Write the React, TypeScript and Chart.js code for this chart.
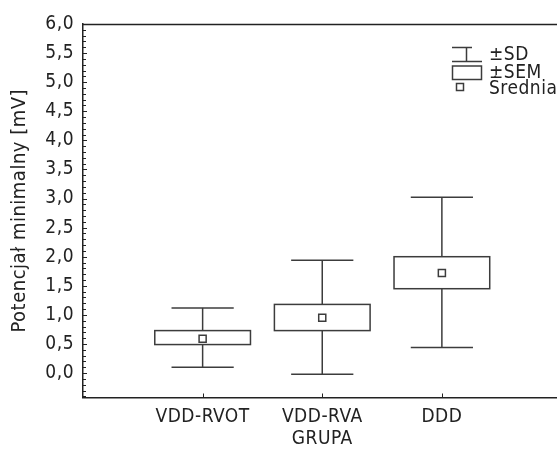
import React, { useEffect, useRef } from 'react';
import { Chart, registerables } from 'chart.js';

Chart.register(...registerables);

// ---- data ----
const categories = ['VDD-RVOT', 'VDD-RVA', 'DDD'];
const means = [0.59, 0.95, 1.72];
const semLow = [0.49, 0.73, 1.45];
const semHigh = [0.73, 1.18, 2.0];
const sdLow = [0.1, -0.02, 0.44];
const sdHigh = [1.12, 1.94, 3.02];
const yTickValues = [0, 0.5, 1, 1.5, 2, 2.5, 3, 3.5, 4, 4.5, 5, 5.5, 6];
const legendLabels = ['±SD', '±SEM', 'Średnia'];
const yTitle = 'Potencjał minimalny [mV]';
const xTitle = 'GRUPA';

const FONT = "'Liberation Sans Narrow', 'DejaVu Sans Condensed', sans-serif";
const INK = '#222';
const LINE = '#3c3c3c';
const BOX_HALF = 0.4;
const CAP_HALF = 0.26;
const SPACING = '0.5px';

const stylePlugin = {
  id: 'textStyle',
  beforeDraw(chart: any) {
    (chart.ctx as any).letterSpacing = SPACING;
  },
};

const boxPlugin = {
  id: 'boxes',
  beforeDatasetsDraw(chart: any) {
    const { ctx, scales } = chart;
    const x = scales.x;
    const y = scales.y;
    ctx.save();
    ctx.strokeStyle = LINE;
    ctx.lineWidth = 1.5;
    const line = (x1: number, y1: number, x2: number, y2: number) => {
      ctx.beginPath();
      ctx.moveTo(x1, y1);
      ctx.lineTo(x2, y2);
      ctx.stroke();
    };
    categories.forEach((_, i) => {
      const c = i + 1;
      const xc = x.getPixelForValue(c);
      const capL = x.getPixelForValue(c - CAP_HALF);
      const capR = x.getPixelForValue(c + CAP_HALF);
      const bL = x.getPixelForValue(c - BOX_HALF);
      const bR = x.getPixelForValue(c + BOX_HALF);
      const yH = y.getPixelForValue(sdHigh[i]);
      const yL = y.getPixelForValue(sdLow[i]);
      const sH = y.getPixelForValue(semHigh[i]);
      const sL = y.getPixelForValue(semLow[i]);
      line(xc, yH, xc, sH);
      line(xc, sL, xc, yL);
      line(capL, yH, capR, yH);
      line(capL, yL, capR, yL);
      ctx.fillStyle = '#fff';
      ctx.fillRect(bL, sH, bR - bL, sL - sH);
      ctx.strokeRect(bL, sH, bR - bL, sL - sH);
    });
    ctx.restore();
  },
  afterDraw(chart: any) {
    const { ctx, chartArea, scales } = chart;
    const x = scales.x;
    const y = scales.y;
    ctx.save();
    ctx.strokeStyle = INK;
    ctx.lineWidth = 1.5;
    // top frame line
    ctx.beginPath();
    ctx.moveTo(chartArea.left, chartArea.top + 0.5);
    ctx.lineTo(chartArea.right, chartArea.top + 0.5);
    ctx.stroke();
    // minor ticks on y axis (inside)
    ctx.lineWidth = 1;
    for (let k = -4; k <= 60; k++) {
      const v = k / 10;
      const py = Math.round(y.getPixelForValue(v)) + 0.5;
      const len = k % 5 === 0 ? 4 : 3;
      ctx.beginPath();
      ctx.moveTo(chartArea.left, py);
      ctx.lineTo(chartArea.left + len, py);
      ctx.stroke();
    }
    // x ticks (inside)
    categories.forEach((_, i) => {
      const px = Math.round(x.getPixelForValue(i + 1)) + 0.5;
      ctx.beginPath();
      ctx.moveTo(px, chartArea.bottom);
      ctx.lineTo(px, chartArea.bottom - 4);
      ctx.stroke();
    });

    // legend
    ctx.strokeStyle = LINE;
    ctx.lineWidth = 1.5;
    ctx.beginPath();
    ctx.moveTo(452, 47.5); ctx.lineTo(472, 47.5);
    ctx.moveTo(466.5, 47.5); ctx.lineTo(466.5, 61.5);
    ctx.moveTo(452, 61.5); ctx.lineTo(482, 61.5);
    ctx.stroke();
    ctx.strokeRect(452.5, 66, 29, 13.5);
    ctx.strokeRect(456.5, 83.5, 7, 7);
    ctx.fillStyle = INK;
    ctx.font = `19px ${FONT}`;
    (ctx as any).letterSpacing = SPACING;
    ctx.textAlign = 'left';
    ctx.textBaseline = 'middle';
    ctx.fillText(legendLabels[0], 489, 55);
    ctx.fillText(legendLabels[1], 489, 73);
    ctx.fillText(legendLabels[2], 489, 89);
    ctx.restore();
  },
};

export default function App() {
  const ref = useRef<HTMLCanvasElement | null>(null);
  useEffect(() => {
    if (!ref.current) return;
    const chart = new Chart(ref.current, {
      type: 'scatter',
      data: {
        datasets: [
          {
            data: means.map((m, i) => ({ x: i + 1, y: m })),
            pointStyle: 'rect',
            pointRadius: 5,
            backgroundColor: '#fff',
            borderColor: LINE,
            borderWidth: 1.5,
          },
        ],
      },
      options: {
        responsive: false,
        animation: false,
        devicePixelRatio: 1,
        events: [],
        layout: { padding: { top: 24, left: 0, right: 0, bottom: 0 } },
        plugins: {
          legend: { display: false },
          tooltip: { enabled: false },
        },
        scales: {
          x: {
            type: 'linear',
            min: 0,
            max: 4,
            grid: { display: false, drawTicks: false },
            border: { display: true, color: INK, width: 1.5 },
            afterBuildTicks: (scale: any) => {
              scale.ticks = categories.map((_, i) => ({ value: i + 1 }));
            },
            afterFit: (scale: any) => {
              scale.height = 57.5;
            },
            ticks: {
              autoSkip: false,
              maxRotation: 0,
              padding: 8,
              color: INK,
              font: { family: FONT, size: 19 },
              callback: (v: any) => categories[Number(v) - 1] ?? '',
            },
            title: {
              display: true,
              text: xTitle,
              color: INK,
              font: { family: FONT, size: 19 },
              padding: { top: 0, bottom: 5 },
            },
          },
          y: {
            type: 'linear',
            min: -0.42,
            max: 6,
            grid: { display: false, drawTicks: false },
            border: { display: true, color: INK, width: 1.5 },
            afterBuildTicks: (scale: any) => {
              scale.ticks = yTickValues.map((v) => ({ value: v }));
            },
            afterFit: (scale: any) => {
              scale.width = 83;
            },
            ticks: {
              padding: 9,
              color: INK,
              font: { family: FONT, size: 19 },
              callback: (v: any) => Number(v).toFixed(1).replace('.', ','),
            },
            title: {
              display: true,
              text: yTitle,
              color: INK,
              font: { family: FONT, size: 20 },
              padding: { top: 8, bottom: 0 },
            },
          },
        },
      },
      plugins: [stylePlugin, boxPlugin],
    } as any);
    return () => chart.destroy();
  }, []);
  return (
    <div
      style={{
        position: 'fixed',
        left: 0,
        top: 0,
        width: 557,
        height: 455,
        overflow: 'hidden',
        background: '#fff',
      }}
    >
      <canvas ref={ref} width={568} height={455} style={{ display: 'block', width: 568, height: 455 }} />
    </div>
  );
}
